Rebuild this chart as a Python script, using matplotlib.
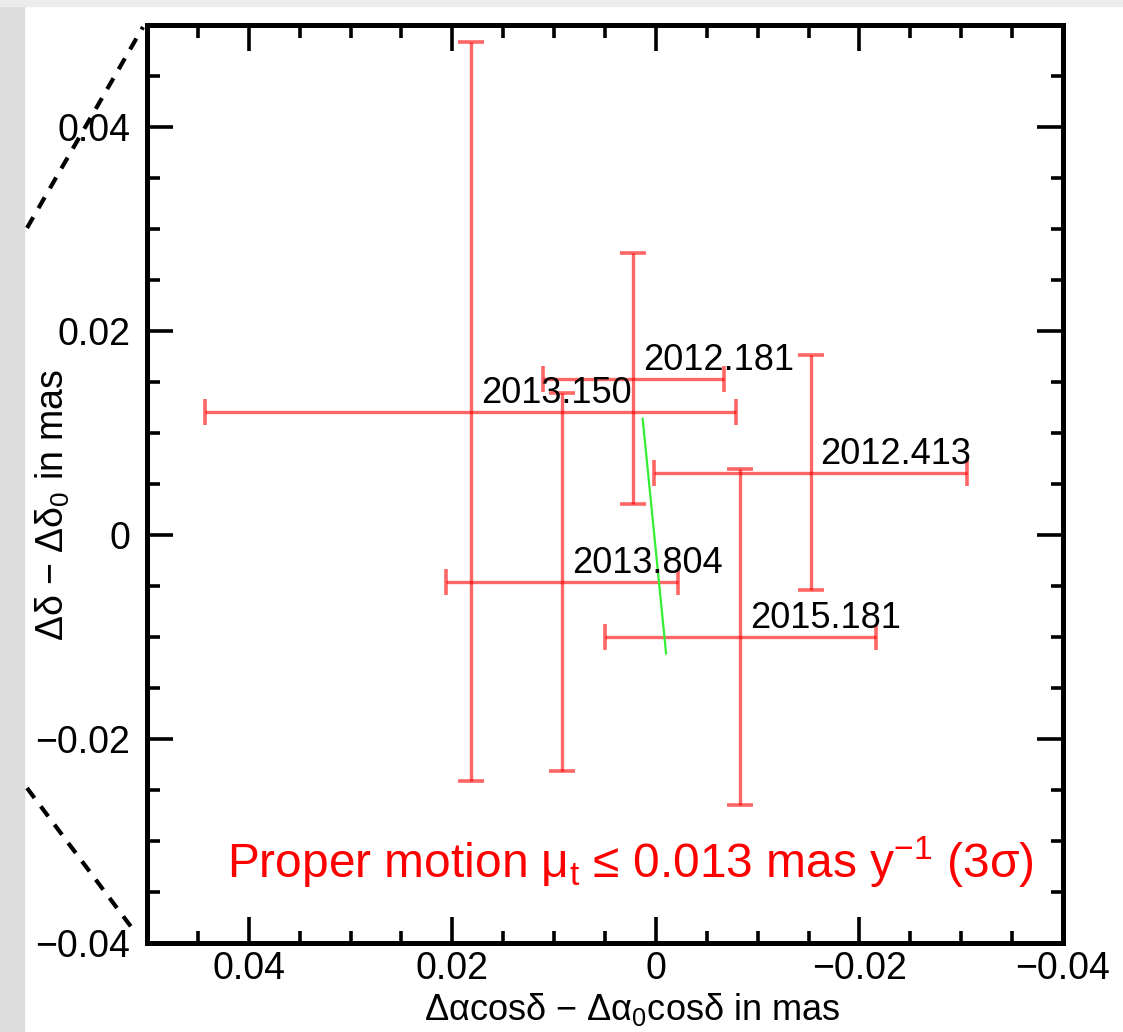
import matplotlib
matplotlib.use("Agg")
import matplotlib.pyplot as plt
from matplotlib.lines import Line2D
from matplotlib.patches import Rectangle
from matplotlib.ticker import MultipleLocator, FuncFormatter

plt.rcParams['font.family'] = ['Liberation Sans', 'DejaVu Sans']
plt.rcParams['mathtext.fontset'] = 'custom'
plt.rcParams['mathtext.rm'] = 'Liberation Sans'
plt.rcParams['mathtext.it'] = 'Liberation Sans:italic'

# epochs and offsets (mas)
epochs = ['2013.150', '2012.181', '2012.413', '2013.804', '2015.181']
dx = [0.0182, 0.0022, -0.0152, 0.0092, -0.0083]
dy = [0.0121, 0.0153, 0.0061, -0.0046, -0.0100]
dx_err = [0.0261, 0.0089, 0.0154, 0.0114, 0.0133]
dy_err = [0.0362, 0.0123, 0.0115, 0.0185, 0.0165]

# fitted proper motion track
fit_x = [0.0013, -0.0010]
fit_y = [0.0114, -0.0116]

W, H = 1123, 1032
fig = plt.figure(figsize=(W / 100, H / 100), dpi=100)

# screenshot frame
fig.patches.append(Rectangle((0, 0), 24 / W, 1, transform=fig.transFigure,
                             color='#dcdcdc', zorder=-5))
fig.patches.append(Rectangle((0, 1 - 6 / H), 1, 6 / H, transform=fig.transFigure,
                             color='#ececec', zorder=-5))

ax = fig.add_axes([147 / W, 1 - 943 / H, (1063 - 147) / W, (943 - 25) / H])
ax.set_xlim(0.05, -0.04)
ax.set_ylim(-0.04, 0.05)

ax.errorbar(dx, dy, xerr=dx_err, yerr=dy_err, fmt='none', ecolor='red',
            elinewidth=2.4, capsize=9.5, capthick=2.6, alpha=0.6)
for lab, x, y in zip(epochs, dx, dy):
    ax.annotate(lab, (x, y), xytext=(10, 9), textcoords='offset pixels',
                fontsize=26, color='black', ha='left', va='baseline')

ax.plot(fit_x, fit_y, color='#33ee33', lw=1.6)

ax.text(0.528, 0.071, 'Proper motion μ$_\\mathrm{t}$ ≤ 0.013 mas y$^{-1}$ (3σ)',
        transform=ax.transAxes, color='red', fontsize=34.5, ha='center', va='baseline')

fmt = FuncFormatter(lambda v, p: '0' if abs(v) < 1e-9 else ('%.2f' % v).replace('-', '\u2212'))
for axis in (ax.xaxis, ax.yaxis):
    axis.set_major_locator(MultipleLocator(0.02))
    axis.set_minor_locator(MultipleLocator(0.005))
    axis.set_major_formatter(fmt)
ax.tick_params(which='both', direction='in', top=True, right=True, width=2.6,
               labelsize=27, color='black')
ax.tick_params(which='major', length=19)
ax.tick_params(which='minor', length=9)
ax.tick_params(axis='x', pad=6)
ax.tick_params(axis='y', pad=12)
for s in ax.spines.values():
    s.set_linewidth(3.6)

ax.set_xlabel('Δαcosδ − Δα$_\\mathrm{0}$cosδ in mas', fontsize=26)
ax.set_ylabel('Δδ − Δδ$_\\mathrm{0}$ in mas', fontsize=27)
ax.xaxis.set_label_coords(0.53, -0.052)
ax.yaxis.set_label_coords(-0.082, 0.477)

# zoom guide lines from the neighbouring panel
fig.add_artist(Line2D([27 / W, 143 / W], [1 - 228 / H, 1 - 27 / H], color='black',
                      lw=3, ls=(0, (3, 2.5))))
fig.add_artist(Line2D([27 / W, 135 / W], [1 - 788 / H, 1 - 932 / H], color='black',
                      lw=3, ls=(0, (3, 2.5))))

fig.savefig('out.png', dpi=100)
